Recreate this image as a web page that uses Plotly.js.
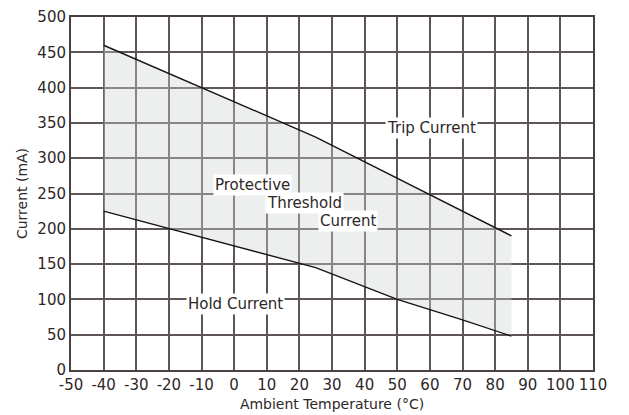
<!DOCTYPE html>
<html>
<head>
<meta charset="utf-8">
<script src="https://cdn.plot.ly/plotly-3.0.1.min.js"></script>
<style>html,body{margin:0;padding:0;background:#fff;}#chart{width:629px;height:415px;}</style>
</head>
<body>
<div id="chart"></div>
<script>
// Data
var tripTemp = [-40, 25, 85];
var tripCurrent = [460, 330, 190];
var holdTemp = [-40, 25, 50, 60, 70, 85];
var holdCurrent = [225, 145, 100, 86, 71, 48];
var xTicks = [-50, -40, -30, -20, -10, 0, 10, 20, 30, 40, 50, 60, 70, 80, 90, 100, 110];
var yTicks = [0, 50, 100, 150, 200, 250, 300, 350, 400, 450, 500];
var labelText = ["Trip Current", "Protective", "Threshold", "Current", "Hold Current"];
var labelX = [60.5, 5.5, 21.7, 35, 0.4];
var labelY = [343, 262, 236, 211, 93.5];

var ink = '#2e2727';
var fnt = 'DejaVu Sans, Verdana, sans-serif';

// fill polygon: trip line forward, hold line backward
var polyX = tripTemp.concat(holdTemp.slice().reverse()).concat([tripTemp[0]]);
var polyY = tripCurrent.concat(holdCurrent.slice().reverse()).concat([tripCurrent[0]]);

var traces = [
  {x: polyX, y: polyY, mode: 'lines', fill: 'toself', fillcolor: 'rgba(205,212,210,0.38)',
   line: {width: 0, color: 'rgba(0,0,0,0)'}, hoverinfo: 'skip', showlegend: false},
  {x: tripTemp, y: tripCurrent, mode: 'lines', line: {color: '#1a1414', width: 1.4}, showlegend: false},
  {x: holdTemp, y: holdCurrent, mode: 'lines', line: {color: '#1a1414', width: 1.4}, showlegend: false}
];

var annotations = labelText.map(function(t, i){
  return {x: labelX[i], y: labelY[i], text: t, showarrow: false, bgcolor: '#ffffff',
          borderpad: 1, font: {family: fnt, size: 15, color: ink}, xanchor: 'center', yanchor: 'middle'};
});

var layout = {
  width: 629, height: 415,
  margin: {l: 71, r: 36, t: 17, b: 45},
  paper_bgcolor: '#ffffff', plot_bgcolor: '#ffffff',
  showlegend: false,
  font: {family: fnt, size: 15, color: ink},
  xaxis: {
    range: [-50, 110], tickvals: xTicks, ticktext: xTicks.map(String),
    showgrid: true, gridcolor: '#5e5656', gridwidth: 2,
    showline: true, linecolor: '#4a4242', linewidth: 2, mirror: true,
    zeroline: false, ticks: '', ticklen: 0,
    tickfont: {family: fnt, size: 15, color: ink},
    title: {text: 'Ambient Temperature (°C)', font: {family: fnt, size: 14, color: ink}, standoff: 6}
  },
  yaxis: {
    range: [0, 500], tickvals: yTicks, ticktext: yTicks.map(String),
    showgrid: true, gridcolor: '#5e5656', gridwidth: 2,
    showline: true, linecolor: '#4a4242', linewidth: 2, mirror: true,
    zeroline: false, ticks: '', ticklen: 0,
    tickfont: {family: fnt, size: 15, color: ink},
    title: {text: 'Current (mA)', font: {family: fnt, size: 14, color: ink}, standoff: 6}
  },
  annotations: annotations
};

Plotly.newPlot('chart', traces, layout, {displayModeBar: false, staticPlot: true});
</script>
</body>
</html>
